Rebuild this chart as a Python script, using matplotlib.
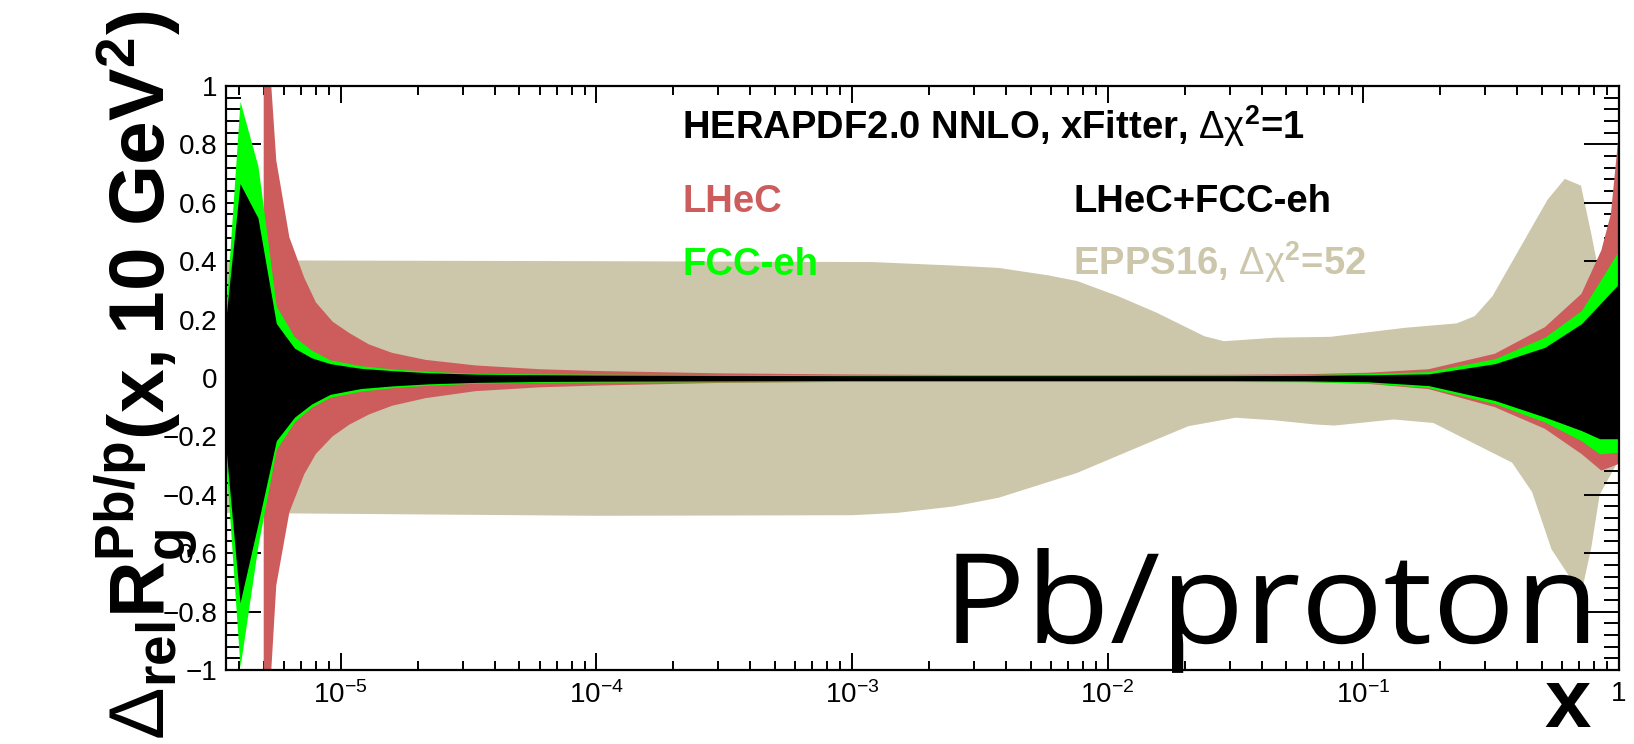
import numpy as np
import matplotlib
matplotlib.use("Agg")
import matplotlib.pyplot as plt
from matplotlib.ticker import LogLocator, MultipleLocator, NullFormatter, FuncFormatter
from matplotlib.textpath import TextPath
from matplotlib.patches import PathPatch
from matplotlib.font_manager import FontProperties
from matplotlib.transforms import Affine2D

plt.rcParams['font.family'] = ['Liberation Sans', 'DejaVu Sans']
plt.rcParams['mathtext.fontset'] = 'custom'
plt.rcParams['mathtext.rm'] = 'Liberation Sans'
plt.rcParams['mathtext.it'] = 'Liberation Sans:italic'
plt.rcParams['mathtext.bf'] = 'Liberation Sans:bold'
plt.rcParams['mathtext.sf'] = 'Liberation Sans'

# EPPS16 band (upper and lower edges on their own x grids)
x_epps_up = [3.56e-6, 1e-4, 1.2e-3, 2.5e-3, 3.75e-3, 5.9e-3, 7.6e-3, 0.011, 0.0156,
             0.0239, 0.0285, 0.0453, 0.0743, 0.146, 0.232, 0.273, 0.32, 0.526,
             0.614, 0.71, 0.778, 0.84, 1.0]
epps_up = [0.403, 0.400, 0.397, 0.385, 0.377, 0.351, 0.332, 0.28, 0.223,
           0.143, 0.126, 0.138, 0.141, 0.172, 0.187, 0.212, 0.28, 0.611,
           0.682, 0.659, 0.497, 0.349, 0.26]
x_epps_lo = [3.56e-6, 1e-4, 1e-3, 1.5e-3, 2.5e-3, 3.75e-3, 7.6e-3, 0.015, 0.0207,
             0.0316, 0.045, 0.0644, 0.077, 0.1315, 0.188, 0.268, 0.382, 0.457,
             0.545, 0.711, 0.78, 0.84, 1.0]
epps_lo = [-0.462, -0.472, -0.47, -0.462, -0.44, -0.41, -0.325, -0.216, -0.165,
           -0.136, -0.145, -0.159, -0.163, -0.142, -0.154, -0.222, -0.29, -0.39,
           -0.587, -0.741, -0.58, -0.40, -0.28]

# LHeC band
x_lhec = [5.0e-6, 5.6e-6, 6.3e-6, 7.2e-6, 8.0e-6, 9.3e-6, 1.08e-5, 1.29e-5, 1.59e-5,
          2.15e-5, 3.37e-5, 6e-5, 1e-4, 3e-4, 1e-3, 3e-3, 1e-2, 3e-2, 0.06,
          0.104, 0.18, 0.327, 0.513, 0.713, 0.853, 0.93, 1.0]
lhec_up = [1.39, 0.745, 0.482, 0.344, 0.259, 0.193, 0.154, 0.115, 0.086,
           0.062, 0.043, 0.030, 0.024, 0.016, 0.012, 0.010, 0.010, 0.011, 0.013,
           0.018, 0.03, 0.083, 0.174, 0.288, 0.437, 0.562, 0.845]
lhec_lo = [-1.44, -0.71, -0.46, -0.33, -0.26, -0.20, -0.16, -0.125, -0.095,
           -0.069, -0.045, -0.032, -0.026, -0.017, -0.013, -0.011, -0.011, -0.012, -0.014,
           -0.02, -0.038, -0.10, -0.174, -0.26, -0.317, -0.305, -0.294]

# FCC-eh and LHeC+FCC-eh bands share one x grid
x_fcc = [3.56e-6, 4.04e-6, 4.75e-6, 5.6e-6, 6.6e-6, 7.7e-6, 9.1e-6, 1.2e-5, 1.6e-5,
         2.2e-5, 3.4e-5, 6e-5, 1e-4, 3e-4, 1e-3, 3e-3, 1e-2, 3e-2, 0.06,
         0.104, 0.18, 0.327, 0.513, 0.713, 0.84, 1.0]
fcc_up = [0.233, 0.948, 0.725, 0.246, 0.141, 0.095, 0.062, 0.042, 0.031,
          0.023, 0.016, 0.014, 0.013, 0.012, 0.011, 0.011, 0.011, 0.011, 0.012,
          0.015, 0.022, 0.066, 0.14, 0.231, 0.33, 0.437]
fcc_lo = [-0.29, -0.99, -0.573, -0.245, -0.15, -0.10, -0.066, -0.045, -0.033,
          -0.025, -0.018, -0.015, -0.014, -0.013, -0.012, -0.012, -0.012, -0.012, -0.013,
          -0.017, -0.033, -0.088, -0.151, -0.215, -0.26, -0.254]
comb_up = [0.207, 0.666, 0.548, 0.187, 0.102, 0.069, 0.049, 0.033, 0.025,
           0.018, 0.013, 0.011, 0.010, 0.009, 0.008, 0.008, 0.008, 0.008, 0.009,
           0.011, 0.014, 0.049, 0.105, 0.186, 0.252, 0.323]
comb_lo = [-0.24, -0.77, -0.50, -0.215, -0.134, -0.089, -0.056, -0.036, -0.027,
           -0.020, -0.015, -0.012, -0.011, -0.010, -0.009, -0.009, -0.009, -0.009, -0.010,
           -0.013, -0.026, -0.077, -0.134, -0.18, -0.208, -0.208]

c_epps = '#CCC6AA'
c_lhec = '#CD5C5C'
c_fcc = '#00FF00'
c_comb = '#000000'

DPI = 100
fig = plt.figure(figsize=(16.34, 7.44), dpi=DPI)
ax = fig.add_axes([0.1383, 0.0995, 0.8525, 0.7849])

ax.fill(np.concatenate([x_epps_up, x_epps_lo[::-1]]),
        np.concatenate([epps_up, epps_lo[::-1]]), color=c_epps, lw=0, zorder=1)
ax.fill_between(x_lhec, lhec_lo, lhec_up, color=c_lhec, lw=0, zorder=2)
ax.fill_between(x_fcc, fcc_lo, fcc_up, color=c_fcc, lw=0, zorder=3)
ax.fill_between(x_fcc, comb_lo, comb_up, color=c_comb, lw=0, zorder=4)

ax.set_xscale('log')
ax.set_xlim(3.56e-6, 1.0)
ax.set_ylim(-1, 1)

def xfmt(v, pos):
    e = int(round(np.log10(v)))
    return '1' if e == 0 else r'$10^{%d}$' % e

def yfmt(v, pos):
    v = round(v, 2) + 0.0
    return ('%g' % v).replace('-', '\u2212')

ax.xaxis.set_major_locator(LogLocator(base=10, numticks=12))
ax.xaxis.set_minor_locator(LogLocator(base=10, subs=np.arange(2, 10), numticks=100))
ax.xaxis.set_major_formatter(FuncFormatter(xfmt))
ax.xaxis.set_minor_formatter(NullFormatter())
ax.yaxis.set_major_locator(MultipleLocator(0.2))
ax.yaxis.set_minor_locator(MultipleLocator(0.04))
ax.yaxis.set_major_formatter(FuncFormatter(yfmt))

ax.tick_params(which='both', direction='in', top=True, right=True, width=1.4,
               labelsize=20, zorder=10)
ax.tick_params(axis='y', which='major', length=25, pad=6)
ax.tick_params(axis='y', which='minor', length=11)
ax.tick_params(axis='x', which='major', length=12.5, pad=8)
ax.tick_params(axis='x', which='minor', length=6.5)
for s in ax.spines.values():
    s.set_linewidth(1.6)
    s.set_zorder(10)

# legend as coloured text
fs_leg = 27.5
fig.text(0.4174, 0.8132, r'HERAPDF2.0 NNLO, xFitter, $\Delta\mathrm{\chi}^{\mathbf{2}}$=1',
         fontsize=fs_leg, weight='bold', color='k', ha='left', va='baseline')
fig.text(0.4174, 0.715, 'LHeC', fontsize=fs_leg, weight='bold', color=c_lhec, va='baseline')
fig.text(0.4174, 0.6304, 'FCC-eh', fontsize=fs_leg, weight='bold', color=c_fcc, va='baseline')
fig.text(0.6567, 0.715, 'LHeC+FCC-eh', fontsize=fs_leg, weight='bold', color='k', va='baseline')
fig.text(0.6567, 0.6304, r'EPPS16, $\Delta\mathrm{\chi}^{\mathbf{2}}$=52',
         fontsize=fs_leg, weight='bold', color=c_epps, ha='left', va='baseline')

# big "Pb/proton" tag, drawn as a slightly widened text path (pixel coordinates)
tag = TextPath((0, 0), 'Pb/proton', size=90, prop=FontProperties(family='Open Sans'))
tag_tf = Affine2D().scale(1.1 * DPI / 72, DPI / 72).translate(943, 744 - 643)
fig.add_artist(PathPatch(tag, transform=tag_tf, facecolor='k', lw=0, zorder=20))

fig.text(0.9596, 0.0, 'x', fontsize=60, weight='bold', ha='center', va='bottom')
fig.text(0.09, 0.496,
         r'$\Delta_{\mathbf{rel}}\mathbf{R}_{\mathbf{g}}^{\mathbf{Pb/p}}\mathbf{(x,10\ GeV^{2})}$',
         fontsize=56.5, rotation=90, ha='center', va='center')

fig.savefig('out.png', dpi=DPI)
